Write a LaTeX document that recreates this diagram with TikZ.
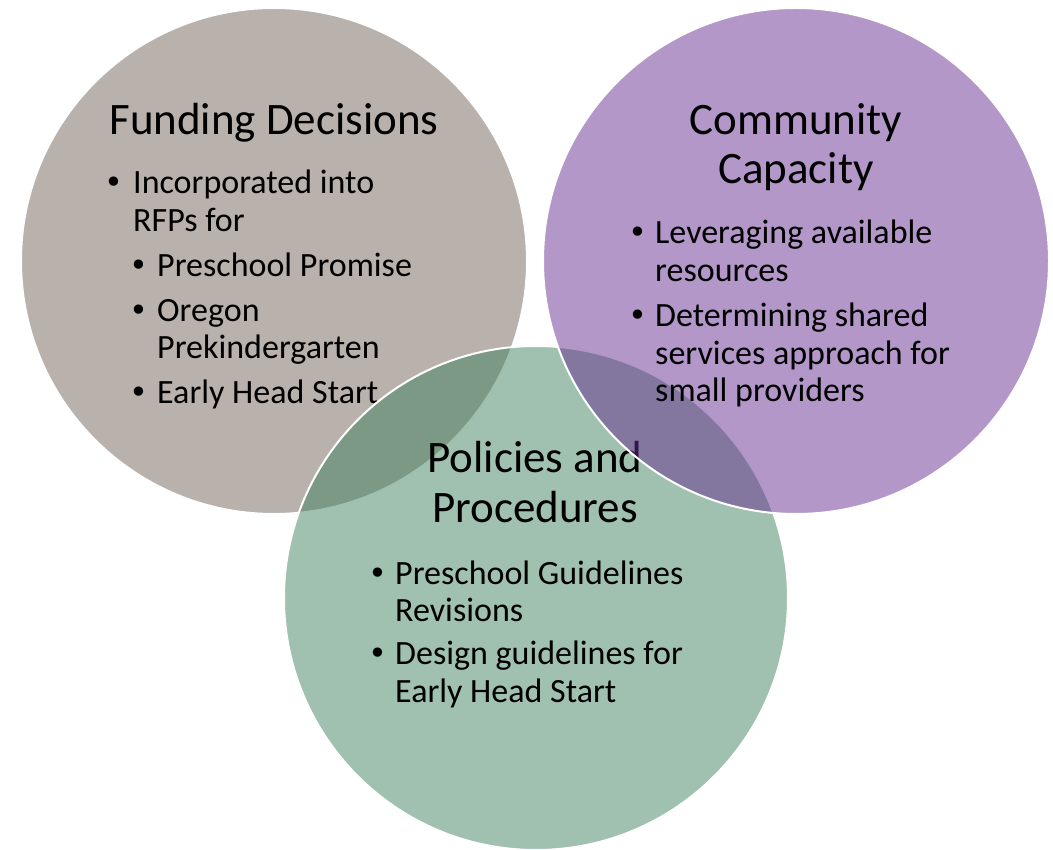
\documentclass[tikz,border=0pt]{standalone}
\usepackage{fontspec}
\setmainfont{Carlito}
\newfontfamily\bulfont{DejaVu Sans}
\definecolor{graybase}{RGB}{113,99,89}
\definecolor{greenbase}{RGB}{65,131,97}
\definecolor{purplebase}{RGB}{103,47,145}
\begin{document}
\begin{tikzpicture}[x=1pt,y=-1pt,
  venn/.style={fill opacity=0.5, draw=white, draw opacity=1, line width=2pt},
  ttl/.style={anchor=base, inner sep=0pt, font=\fontsize{45}{50}\selectfont},
  txt/.style={anchor=base west, inner sep=0pt, font=\fontsize{34}{38}\selectfont},
  bul/.style={anchor=base, inner sep=0pt, font=\bulfont\fontsize{32}{38}\selectfont}]
\useasboundingbox (0,0) rectangle (1053,850);
% gray circle
\fill[venn, fill=graybase] (274,261) circle[radius=253];
\node[ttl] (t1) at (274,135) {Funding Decisions};
\node[bul] (b1) at (113.5,194) {•};
\node[txt] (l1a) at (133,194) {Incorporated into};
\node[txt] (l1b) at (133,232) {RFPs for};
\node[bul] (b2) at (139,277) {•};
\node[txt] (l2) at (157,277) {Preschool Promise};
\node[bul] (b3) at (139,322) {•};
\node[txt] (l3a) at (157,322) {Oregon};
\node[txt] (l3b) at (157,359) {Prekindergarten};
\node[bul] (b4) at (139,404) {•};
\node[txt] (l4) at (157,404) {Early Head Start};
% green circle
\filldraw[venn, fill=greenbase] (536,598) circle[radius=252];
\node[ttl] (t3a) at (535,472) {Policies and};
\node[ttl] (t3b) at (535,522) {Procedures};
\node[bul] (b7) at (377.5,584) {•};
\node[txt] (l7a) at (395,584) {Preschool Guidelines};
\node[txt] (l7b) at (395,621) {Revisions};
\node[bul] (b8) at (377.5,664) {•};
\node[txt] (l8a) at (395,664) {Design guidelines for};
\node[txt] (l8b) at (395,702) {Early Head Start};
% purple circle
\filldraw[venn, fill=purplebase] (796,261) circle[radius=253];
\node[ttl] (t2a) at (796,135) {Community};
\node[ttl] (t2b) at (796,184) {Capacity};
\node[bul] (b5) at (638,244) {•};
\node[txt] (l5a) at (655,244) {Leveraging available};
\node[txt] (l5b) at (655,282) {resources};
\node[bul] (b6) at (638,327) {•};
\node[txt] (l6a) at (655,327) {Determining shared};
\node[txt] (l6b) at (655,365) {services approach for};
\node[txt] (l6c) at (655,402) {small providers};
\end{tikzpicture}
\end{document}
